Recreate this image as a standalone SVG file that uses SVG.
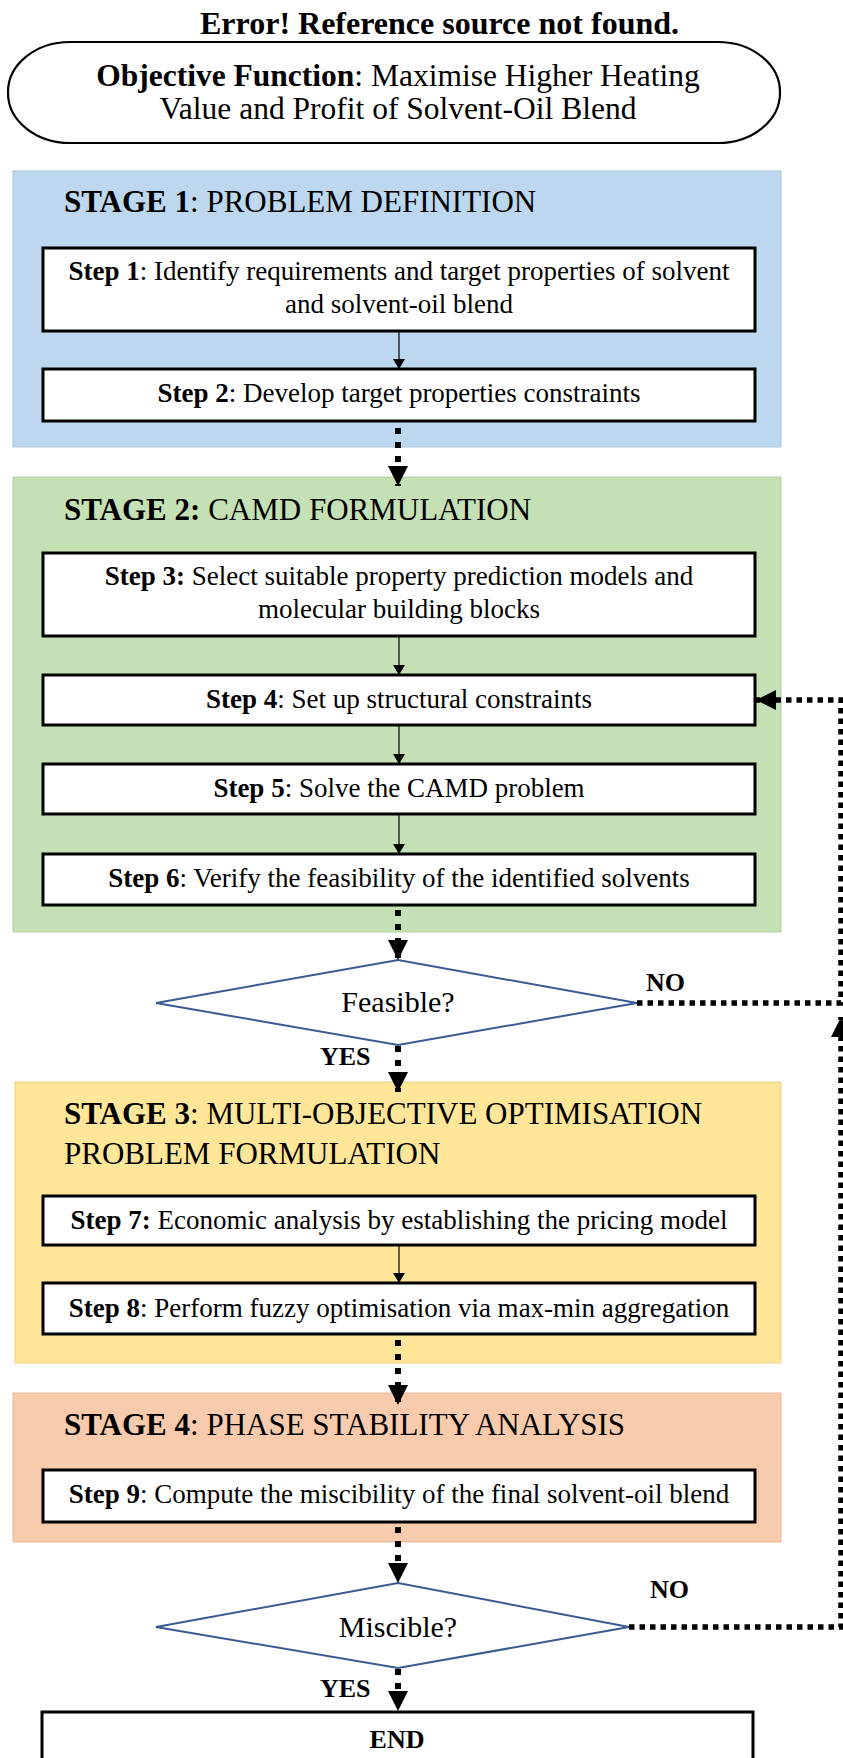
<svg xmlns="http://www.w3.org/2000/svg" width="843" height="1758" viewBox="0 0 843 1758">
  <defs>
    <style>
      text { font-family: "Liberation Serif", "Times New Roman", serif; fill: #000; }
      .b { font-weight: bold; }
      .title { font-size: 32px; font-weight: bold; }
      .obj { font-size: 31.5px; }
      .head { font-size: 31px; }
      .step { font-size: 27px; }
      .dec { font-size: 30px; }
      .lbl { font-size: 26px; font-weight: bold; }
      .stepbox { fill: #fff; stroke: #000; stroke-width: 3; }
      .stage { stroke-width: 1; }
      .diamond { fill: #fff; stroke: #3a5a92; stroke-width: 2; }
      .solid { fill: none; stroke: #000; stroke-width: 1.2; }
      .dotted { fill: none; stroke: #000; stroke-width: 6; stroke-dasharray: 6 8; }
      .loop { fill: none; stroke: #000; stroke-width: 5.5; stroke-dasharray: 5.5 5; }
    </style>
    <marker id="arrSmall" markerUnits="userSpaceOnUse" markerWidth="10" markerHeight="12" refX="10" refY="6" orient="auto">
      <path d="M0,0 L10,6 L0,12 z" fill="#000"/>
    </marker>
    <marker id="arrBig" markerUnits="userSpaceOnUse" markerWidth="20" markerHeight="20" refX="20" refY="10" orient="auto">
      <path d="M0,0 L20,10 L0,20 z" fill="#000"/>
    </marker>
  </defs>

  <rect width="843" height="1758" fill="#fff"/>

  <!-- heading line above the flow -->
  <text class="title" x="200" y="34">Error! Reference source not found.</text>

  <!-- objective -->
  <g id="objective">
    <rect x="8" y="42" width="772" height="101" rx="62" ry="50" fill="#fff" stroke="#000" stroke-width="2.2"/>
    <text class="obj" x="398" y="86" text-anchor="middle"><tspan class="b">Objective Function</tspan>: Maximise Higher Heating</text>
    <text class="obj" x="398" y="119" text-anchor="middle">Value and Profit of Solvent-Oil Blend</text>
  </g>

  <!-- stage backgrounds -->
  <g id="stage1">
    <rect class="stage" x="13" y="171" width="768" height="276" fill="#bdd7ee" stroke="#a8c4de"/>
    <text class="head" x="64" y="212"><tspan class="b">STAGE 1</tspan>: PROBLEM DEFINITION</text>
  </g>
  <g id="stage2">
    <rect class="stage" x="13" y="477" width="768" height="455" fill="#c5e0b4" stroke="#b2d09f"/>
    <text class="head" x="64" y="520"><tspan class="b">STAGE 2:</tspan> CAMD FORMULATION</text>
  </g>
  <g id="stage3">
    <rect class="stage" x="15" y="1082" width="766" height="281" fill="#ffe699" stroke="#ecd388"/>
    <text class="head" x="64" y="1124"><tspan class="b">STAGE 3</tspan>: MULTI-OBJECTIVE OPTIMISATION</text>
    <text class="head" x="64" y="1164">PROBLEM FORMULATION</text>
  </g>
  <g id="stage4">
    <rect class="stage" x="13" y="1393" width="768" height="149" fill="#f8cbad" stroke="#e8b999"/>
    <text class="head" x="64" y="1435"><tspan class="b">STAGE 4</tspan>: PHASE STABILITY ANALYSIS</text>
  </g>

  <!-- steps -->
  <g id="step1">
    <rect class="stepbox" x="43" y="248" width="712" height="83"/>
    <text class="step" x="399" y="280" text-anchor="middle"><tspan class="b">Step 1</tspan>: Identify requirements and target properties of solvent</text>
    <text class="step" x="399" y="313" text-anchor="middle">and solvent-oil blend</text>
  </g>
  <g id="step2">
    <rect class="stepbox" x="43" y="369" width="712" height="52"/>
    <text class="step" x="399" y="402" text-anchor="middle"><tspan class="b">Step 2</tspan>: Develop target properties constraints</text>
  </g>
  <g id="step3">
    <rect class="stepbox" x="43" y="553" width="712" height="83"/>
    <text class="step" x="399" y="585" text-anchor="middle"><tspan class="b">Step 3:</tspan> Select suitable property prediction models and</text>
    <text class="step" x="399" y="618" text-anchor="middle">molecular building blocks</text>
  </g>
  <g id="step4">
    <rect class="stepbox" x="43" y="675" width="712" height="50"/>
    <text class="step" x="399" y="708" text-anchor="middle"><tspan class="b">Step 4</tspan>: Set up structural constraints</text>
  </g>
  <g id="step5">
    <rect class="stepbox" x="43" y="764" width="712" height="50"/>
    <text class="step" x="399" y="797" text-anchor="middle"><tspan class="b">Step 5</tspan>: Solve the CAMD problem</text>
  </g>
  <g id="step6">
    <rect class="stepbox" x="43" y="854" width="712" height="51"/>
    <text class="step" x="399" y="887" text-anchor="middle"><tspan class="b">Step 6</tspan>: Verify the feasibility of the identified solvents</text>
  </g>
  <g id="step7">
    <rect class="stepbox" x="43" y="1196" width="712" height="49"/>
    <text class="step" x="399" y="1229" text-anchor="middle"><tspan class="b">Step 7:</tspan> Economic analysis by establishing the pricing model</text>
  </g>
  <g id="step8">
    <rect class="stepbox" x="43" y="1283" width="712" height="51"/>
    <text class="step" x="399" y="1317" text-anchor="middle"><tspan class="b">Step 8</tspan>: Perform fuzzy optimisation via max-min aggregation</text>
  </g>
  <g id="step9">
    <rect class="stepbox" x="43" y="1470" width="712" height="52"/>
    <text class="step" x="399" y="1503" text-anchor="middle"><tspan class="b">Step 9</tspan>: Compute the miscibility of the final solvent-oil blend</text>
  </g>

  <!-- decisions -->
  <g id="feasible">
    <polygon class="diamond" points="398,960 637,1003 398,1045 156,1003"/>
    <text class="dec" x="398" y="1012" text-anchor="middle">Feasible?</text>
  </g>
  <g id="miscible">
    <polygon class="diamond" points="398,1583 629,1627 398,1668 156,1627"/>
    <text class="dec" x="398" y="1637" text-anchor="middle">Miscible?</text>
  </g>

  <!-- terminal -->
  <g id="end">
    <rect class="stepbox" x="42" y="1712" width="711" height="60"/>
    <text class="lbl" x="397" y="1748" text-anchor="middle">END</text>
  </g>

  <!-- connectors -->
  <g id="connectors">
    <path class="solid" d="M399,331 V369" marker-end="url(#arrSmall)"/>
    <path class="solid" d="M399,636 V675" marker-end="url(#arrSmall)"/>
    <path class="solid" d="M399,725 V764" marker-end="url(#arrSmall)"/>
    <path class="solid" d="M399,814 V854" marker-end="url(#arrSmall)"/>
    <path class="solid" d="M399,1245 V1283" marker-end="url(#arrSmall)"/>

    <path class="dotted" d="M398,428 V486" marker-end="url(#arrBig)"/>
    <path class="dotted" d="M398,910 V960" marker-end="url(#arrBig)"/>
    <path class="dotted" d="M398,1046 V1092" marker-end="url(#arrBig)"/>
    <path class="dotted" d="M398,1340 V1405" marker-end="url(#arrBig)"/>
    <path class="dotted" d="M398,1527 V1583" marker-end="url(#arrBig)"/>
    <path class="dotted" d="M398,1669 V1711" marker-end="url(#arrBig)"/>

    <!-- loop back from the decisions to Step 4 -->
    <path class="loop" d="M637,1003 H841 V700 H756" marker-end="url(#arrBig)"/>
    <path class="loop" d="M629,1627 H841 V1017" marker-end="url(#arrBig)"/>

    <text class="lbl" x="646" y="991">NO</text>
    <text class="lbl" x="320" y="1065">YES</text>
    <text class="lbl" x="650" y="1598">NO</text>
    <text class="lbl" x="320" y="1697">YES</text>
  </g>
</svg>
